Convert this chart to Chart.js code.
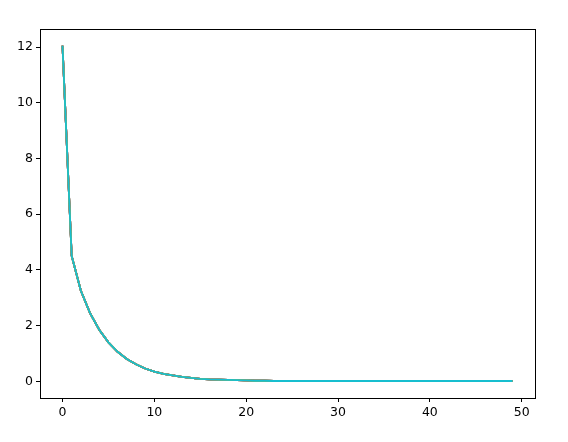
<!DOCTYPE html>
<html>
<head>
<meta charset="utf-8">
<script src="https://cdn.jsdelivr.net/npm/chart.js@4/dist/chart.umd.min.js"></script>
<style>
  html, body { margin: 0; padding: 0; background: #fff; }
  #wrap { width: 568px; height: 442px; }
</style>
</head>
<body>
<div id="wrap"><canvas id="chart"></canvas></div>
<script>
// iteration index 0..49
const steps = Array.from({length: 50}, (_, i) => i);

// curve (all runs overlap almost exactly)
const loss = [12.05, 4.50, 3.25, 2.45, 1.85, 1.40, 1.06, 0.80, 0.61, 0.46,
              0.35, 0.27, 0.21, 0.16, 0.12, 0.09, 0.07, 0.06, 0.05, 0.04,
              0.03, 0.02, 0.02, 0.01, 0.01, 0.01, 0.01, 0.01, 0.01, 0.01,
              0.01, 0.01, 0.01, 0.01, 0.01, 0.01, 0.01, 0.01, 0.01, 0.01,
              0.01, 0.01, 0.01, 0.01, 0.01, 0.01, 0.01, 0.01, 0.01, 0.01];

const runColors = ['#1f77b4','#ff7f0e','#2ca02c','#d62728','#9467bd',
                   '#8c564b','#e377c2','#7f7f7f','#bcbd22','#17becf'];

const xTicks = [0, 10, 20, 30, 40, 50];
const yTicks = [0, 2, 4, 6, 8, 10, 12];

const frame = {
  id: 'frame',
  afterDraw(c) {
    const a = c.chartArea, ctx = c.ctx;
    ctx.save();
    ctx.strokeStyle = '#000';
    ctx.lineWidth = 1;
    ctx.strokeRect(Math.round(a.left) + 0.5, Math.round(a.top) + 0.5,
                   Math.round(a.right - a.left), Math.round(a.bottom - a.top));
    ctx.restore();
  }
};

const chart = document.querySelector('#chart').getContext('2d');
new Chart(chart, {
  type: 'line',
  data: {
    datasets: runColors.map((col, k) => ({
      data: steps.map((s, i) => ({x: s, y: loss[i]})),
      borderColor: col,
      borderWidth: 1.8,
      pointRadius: 0,
      tension: 0,
      order: runColors.length - 1 - k   // later runs drawn on top, like matplotlib
    }))
  },
  options: {
    responsive: true,
    maintainAspectRatio: false,
    animation: false,
    layout: {padding: {left: 0, right: 33, top: 29, bottom: 0}},
    plugins: {legend: {display: false}, tooltip: {enabled: false}},
    scales: {
      x: {
        type: 'linear',
        min: -2.45,
        max: 51.45,
        afterBuildTicks: (s) => { s.ticks = xTicks.map(v => ({value: v})); },
        afterFit: (s) => { s.height = 44; },
        grid: {drawOnChartArea: false, tickLength: 4, color: '#000', tickWidth: 1},
        border: {display: false},
        ticks: {color: '#000', padding: 3, maxRotation: 0,
                font: {family: 'DejaVu Sans', size: 12.5}}
      },
      y: {
        type: 'linear',
        min: -0.6,
        max: 12.65,
        afterBuildTicks: (s) => { s.ticks = yTicks.map(v => ({value: v})); },
        afterFit: (s) => { s.width = 40; },
        grid: {drawOnChartArea: false, tickLength: 4, color: '#000', tickWidth: 1},
        border: {display: false},
        ticks: {color: '#000', padding: 3,
                font: {family: 'DejaVu Sans', size: 12.5}}
      }
    }
  },
  plugins: [frame]
});
</script>
</body>
</html>
